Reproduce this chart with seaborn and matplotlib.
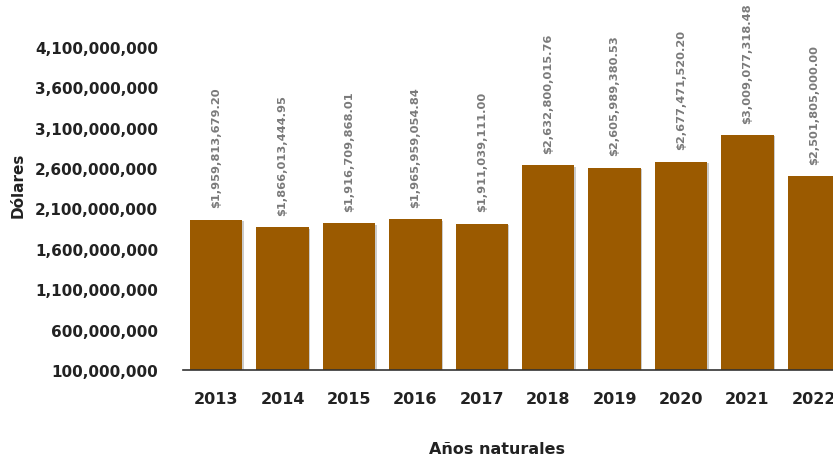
import matplotlib
matplotlib.use("Agg")
import matplotlib.pyplot as plt
import matplotlib.patheffects as pe
import seaborn as sns
import pandas as pd

years = ["2013", "2014", "2015", "2016", "2017", "2018", "2019", "2020", "2021", "2022"]
values = [1959813679.20, 1866013444.95, 1916709868.01, 1965959054.84, 1911039111.00,
          2632800015.76, 2605989380.53, 2677471520.20, 3009077318.48, 2501805000.00]
value_labels = ["$1,959,813,679.20", "$1,866,013,444.95", "$1,916,709,868.01",
                "$1,965,959,054.84", "$1,911,039,111.00", "$2,632,800,015.76",
                "$2,605,989,380.53", "$2,677,471,520.20", "$3,009,077,318.48",
                "$2,501,805,000.00"]
y_ticks = [100000000, 600000000, 1100000000, 1600000000, 2100000000,
           2600000000, 3100000000, 3600000000, 4100000000]
y_tick_labels = ["100,000,000", "600,000,000", "1,100,000,000", "1,600,000,000",
                 "2,100,000,000", "2,600,000,000", "3,100,000,000", "3,600,000,000",
                 "4,100,000,000"]

sns.set_theme(style="white")
plt.rcParams["font.family"] = ["DejaVu Sans"]

df = pd.DataFrame({"Año": years, "Valor": values})

fig = plt.figure(figsize=(8.33, 4.6), dpi=100)
ax = fig.add_axes([183 / 833, 89 / 460, 664 / 833, 323 / 460])

sns.barplot(data=df, x="Año", y="Valor", color="#9B5A00", width=0.79,
            saturation=1, ax=ax, linewidth=0, zorder=3)
for p in ax.patches:
    p.set_path_effects([pe.SimplePatchShadow(offset=(1.0, -1.0), alpha=0.3,
                                             shadow_rgbFace="#555555"),
                        pe.Normal()])

ax.set_xlim(-0.5, len(years) - 0.5)
ax.set_ylim(y_ticks[0], y_ticks[-1])
ax.set_yticks(y_ticks)
ax.set_yticklabels(y_tick_labels, fontsize=11, fontweight="bold", color="#222222")
ax.tick_params(axis="x", labelsize=11.5, labelcolor="#222222", pad=15, length=0)
ax.tick_params(axis="y", pad=18, length=0)
for t in ax.get_xticklabels():
    t.set_fontweight("bold")

for i, (v, lab) in enumerate(zip(values, value_labels)):
    ax.annotate(lab, xy=(i, v), xytext=(0, 9), textcoords="offset points",
                rotation=90, ha="center", va="bottom", fontsize=8.2,
                fontweight="bold", color="#7a7a7a", annotation_clip=False)

for s in ["top", "right", "left"]:
    ax.spines[s].set_visible(False)
ax.spines["bottom"].set_color("#333333")
ax.spines["bottom"].set_linewidth(1.2)
ax.spines["bottom"].set_zorder(4)
ax.grid(False)

ax.set_xlabel("")
ax.set_ylabel("")
fig.text(497 / 833, 1 - 450 / 460, "Años naturales", ha="center", va="center",
         fontsize=11.5, fontweight="bold", color="#222222")
fig.text(18 / 833, 1 - 185 / 460, "Dólares", ha="center", va="center",
         rotation=90, fontsize=11, fontweight="bold", color="#222222")

fig.savefig("out.png", dpi=100)
